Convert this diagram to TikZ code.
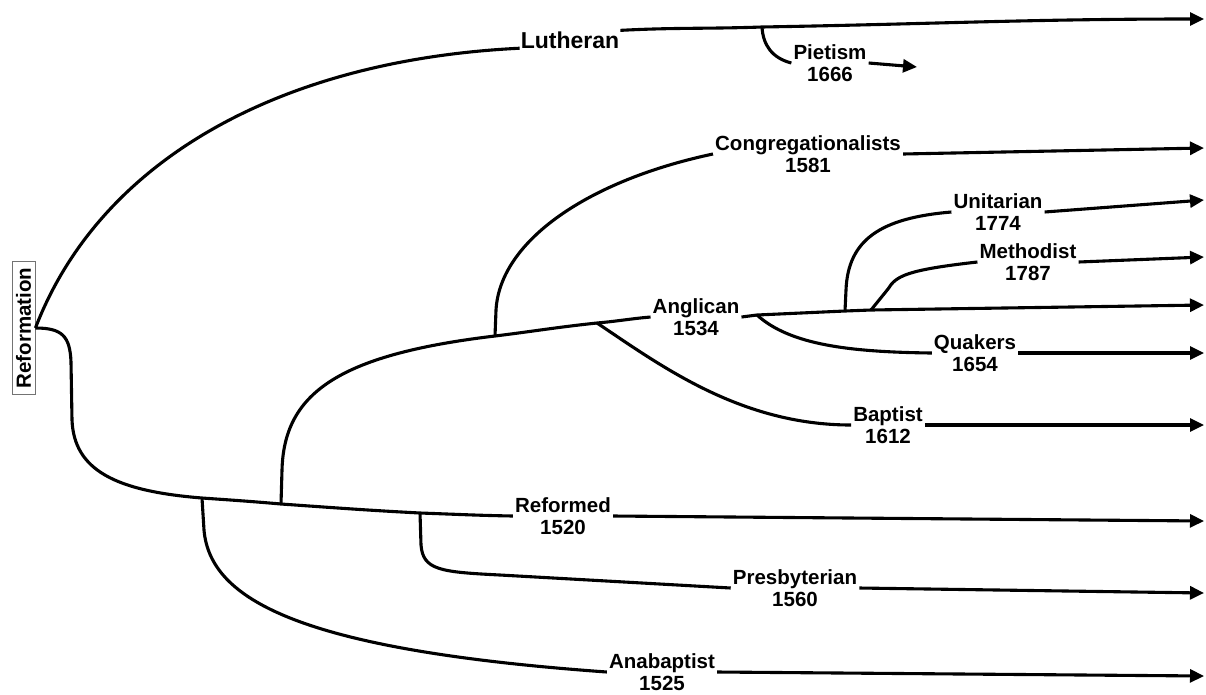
\documentclass[tikz,border=0pt]{standalone}
\usepackage{fontspec}
\setmainfont{Liberation Sans}
\usetikzlibrary{arrows.meta}

\begin{document}
\begin{tikzpicture}[
  x=1pt,y=1pt,
  font=\fontsize{20.5}{22}\selectfont\bfseries,
  >={Triangle[length=14pt,width=13pt]},
  lbl/.style={align=center,inner sep=2pt},
  rootbox/.style={draw=black!55,line width=0.8pt,rotate=90,
                  inner xsep=6pt,inner ysep=4pt},
  twig/.style={line width=3.1pt,line join=round},
  arr/.style={->,line width=3.1pt,line join=round}
]
\useasboundingbox (0,0) rectangle (1206,-694);

% ---- root ----
\node[rootbox] (refm) at (23.5,-328) {Reformation};
\coordinate (src) at (refm.south);

% ---- labels ----
\node[font=\fontsize{23}{26}\selectfont\bfseries,inner sep=1pt] (luth) at (570,-40) {Lutheran};
\node[lbl] (pie)  at (830,-63)  {Pietism\\1666};
\node[lbl] (cong) at (808,-154) {Congregationalists\\1581};
\node[lbl] (unit) at (998,-212) {Unitarian\\1774};
\node[lbl] (meth) at (1028,-262) {Methodist\\1787};
\node[lbl] (angl) at (696,-317) {Anglican\\1534};
\node[lbl] (quak) at (975,-353) {Quakers\\1654};
\node[lbl] (bapt) at (888,-425) {Baptist\\1612};
\node[lbl] (refd) at (563,-516) {Reformed\\1520};
\node[lbl] (pres) at (795,-588) {Presbyterian\\1560};
\node[lbl] (anab) at (662,-672) {Anabaptist\\1525};

% ---- branch points ----
\coordinate (jPie) at (762,-27);
\coordinate (jAna) at (202,-498);
\coordinate (jAng) at (281,-504);
\coordinate (jPre) at (420,-513);
\coordinate (jCon) at (495,-336);
\coordinate (jBap) at (597,-323);
\coordinate (jQua) at (757,-315);
\coordinate (jUni) at (845,-311);
\coordinate (jMet) at (871,-310);
\coordinate (lutT) at (1204,-19);
\coordinate (pieT) at (917,-67);
\coordinate (anglT) at (1204,-305);

% ---- Lutheran ----
\draw[twig] (src) .. controls (100,-160) and (280,-60) .. (luth.base west);
\draw[arr] (luth.north east) to[out=3,in=182] (jPie) to[out=1,in=180] (lutT);
\draw[twig] (jPie) .. controls (763,-45) and (772,-58) .. (pie.west);
\draw[arr] (pie.east) -- (pieT);

% ---- lower trunk ----
\draw[twig] (src) .. controls (62,-328) and (70,-336) .. (71,-362) -- (72,-420)
  .. controls (74,-470) and (115,-491) .. (jAna)
  to[out=-4,in=175] (jAng) to[out=-4,in=177] (jPre) to[out=-2,in=179] (refd.west);
\draw[twig] (jAna) -- (204,-530) .. controls (210,-600) and (300,-650) .. (anab.west);
\draw[twig] (jPre) -- (421,-545) .. controls (423,-570) and (440,-572) .. (500,-575) -- (pres.west);

% ---- Anglican ----
\draw[twig] (jAng) -- (282,-470) .. controls (284,-395) and (335,-355) .. (jCon)
  to[out=7,in=186] (jBap) to[out=5,in=185] (angl.west);
\draw[arr] (angl.east) -- (jQua) -- (jUni) -- (jMet) -- (anglT);
\draw[twig] (jCon) -- (496,-310) .. controls (500,-240) and (590,-180) .. (cong.west);
\draw[twig] (jBap) .. controls (660,-365) and (740,-425) .. (bapt.west);
\draw[twig] (jQua) .. controls (790,-345) and (850,-352) .. (quak.west);
\draw[twig] (jUni) -- (846,-290) .. controls (848,-240) and (880,-218) .. (unit.west);
\draw[twig] (jMet) -- (888,-289) .. controls (896,-276) and (906,-270) .. (meth.west);

% ---- arrows out to the right ----
\foreach \n/\y in {cong/148,unit/200,meth/257,quak/353,bapt/425,refd/521,pres/593,anab/676}{
  \coordinate (\n-tip) at (1204,-\y);
  \draw[arr] (\n.east) -- (\n-tip);
}

\end{tikzpicture}
\end{document}
